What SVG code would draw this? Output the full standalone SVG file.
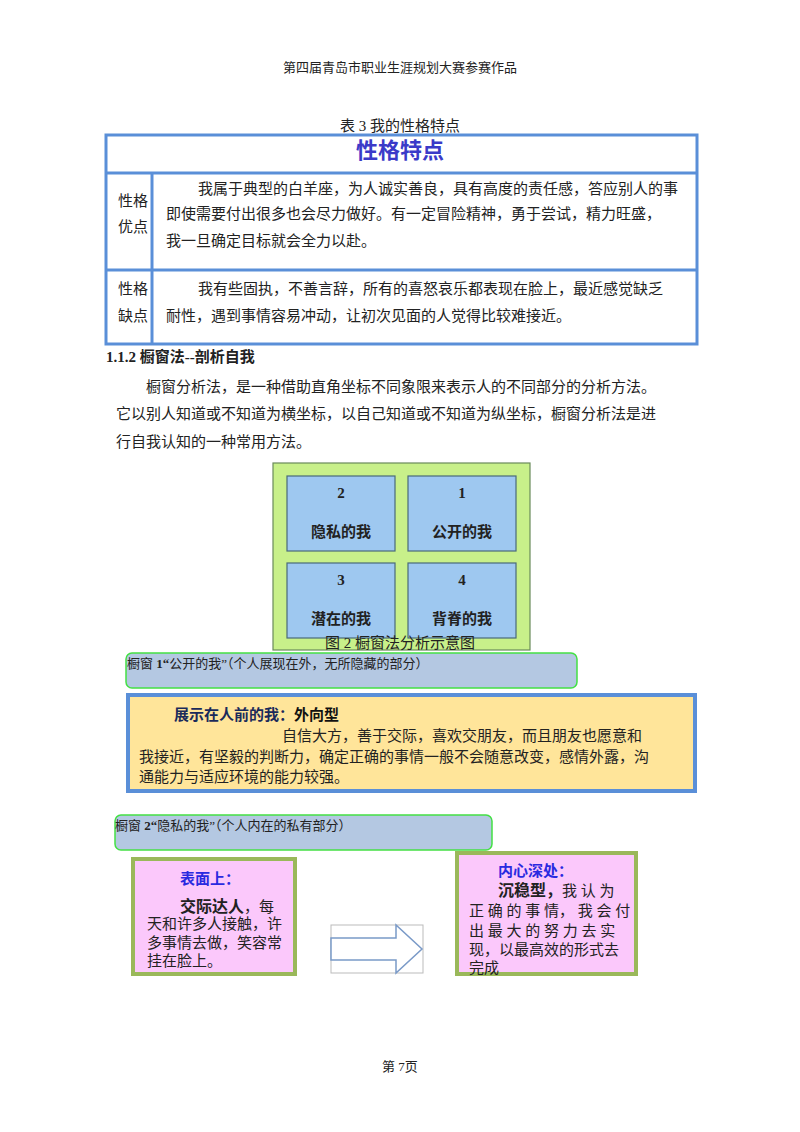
<svg xmlns="http://www.w3.org/2000/svg" width="800" height="1132" viewBox="0 0 800 1132">
<style>
text{font-family:"Liberation Serif","Noto Sans CJK SC",serif;fill:#222}
.s{font-size:13px}
.b{font-size:15px}
.h{font-family:"Liberation Sans","Noto Sans CJK SC",sans-serif;font-weight:bold}
.cell{fill:#9ec8f0;stroke:#4a6a7a;stroke-width:1.2}
</style>
<rect width="800" height="1132" fill="#fff"/>
<text x="400" y="72" class="s" text-anchor="middle">第四届青岛市职业生涯规划大赛参赛作品</text>
<text x="400" y="131" class="b" text-anchor="middle">表 3 我的性格特点</text>
<g id="table" fill="none" stroke="#5a8fd8" stroke-width="3">
<rect x="106" y="135" width="591" height="209"/>
<line x1="106" y1="173" x2="697" y2="173"/>
<line x1="106" y1="270" x2="697" y2="270"/>
<line x1="152" y1="173" x2="152" y2="344"/>
</g>
<text x="400" y="158" text-anchor="middle" class="h" font-size="22" style="fill:#3a3ac8">性格特点</text>
<g class="b">
<text x="118" y="206">性格</text><text x="118" y="232">优点</text>
<text x="198" y="194">我属于典型的白羊座，为人诚实善良，具有高度的责任感，答应别人的事</text>
<text x="166" y="219">即使需要付出很多也会尽力做好。有一定冒险精神，勇于尝试，精力旺盛，</text>
<text x="166" y="246">我一旦确定目标就会全力以赴。</text>
<text x="118" y="294">性格</text><text x="118" y="321">缺点</text>
<text x="198" y="294">我有些固执，不善言辞，所有的喜怒哀乐都表现在脸上，最近感觉缺乏</text>
<text x="166" y="321">耐性，遇到事情容易冲动，让初次见面的人觉得比较难接近。</text>
<text x="106" y="362" font-weight="bold">1.1.2 橱窗法--剖析自我</text>
<text x="146" y="392">橱窗分析法，是一种借助直角坐标不同象限来表示人的不同部分的分析方法。</text>
<text x="116" y="419">它以别人知道或不知道为横坐标，以自己知道或不知道为纵坐标，橱窗分析法是进</text>
<text x="116" y="447">行自我认知的一种常用方法。</text>
</g>
<g id="window">
<rect x="273" y="463" width="257" height="187" fill="#c8f08a" stroke="#6a8a5a" stroke-width="1.2"/>
<rect class="cell" x="287" y="476" width="108" height="75"/>
<rect class="cell" x="408" y="476" width="108" height="75"/>
<rect class="cell" x="287" y="563" width="108" height="75"/>
<rect class="cell" x="408" y="563" width="108" height="75"/>
<g class="h" font-size="15" text-anchor="middle">
<text x="341" y="498">2</text><text x="341" y="537">隐私的我</text>
<text x="462" y="498">1</text><text x="462" y="537">公开的我</text>
<text x="341" y="585">3</text><text x="341" y="624">潜在的我</text>
<text x="462" y="585">4</text><text x="462" y="624">背脊的我</text>
</g>
<text x="400" y="648" class="b" text-anchor="middle">图 2 橱窗法分析示意图</text>
</g>
<g id="w1">
<rect x="126" y="653" width="451" height="35" rx="6" fill="#b4c8e2" stroke="#44e044" stroke-width="1.5"/>
<text x="127" y="668" class="s">橱窗 <tspan font-weight="bold">1“</tspan>公开的我”（个人展现在外，无所隐藏的部分）</text>
</g>
<g id="w1detail">
<rect x="128" y="695" width="567" height="96" fill="#ffe59a" stroke="#5a8fd8" stroke-width="4"/>
<text x="174" y="720" class="h" font-size="15" style="fill:#1a2a5a">展示在人前的我：<tspan style="fill:#111">外向型</tspan></text>
<text x="282" y="741" class="b">自信大方，善于交际，喜欢交朋友，而且朋友也愿意和</text>
<text x="139" y="762" class="b">我接近，有坚毅的判断力，确定正确的事情一般不会随意改变，感情外露，沟</text>
<text x="139" y="782" class="b">通能力与适应环境的能力较强。</text>
</g>
<g id="w2">
<rect x="115" y="815" width="377" height="35" rx="6" fill="#b4c8e2" stroke="#44e044" stroke-width="1.5"/>
<text x="115" y="830" class="s">橱窗 <tspan font-weight="bold">2“</tspan>隐私的我”（个人内在的私有部分）</text>
</g>
<g id="surface">
<rect x="133" y="859" width="162" height="115" fill="#fbc8fb" stroke="#9ab85a" stroke-width="4"/>
<text x="180" y="884" class="h" font-size="15" style="fill:#2a2ae0">表面上：</text>
<text x="180" y="912" class="b"><tspan font-weight="bold" font-size="16">交际达人</tspan>，每</text>
<text x="147" y="929" class="b">天和许多人接触，许</text>
<text x="147" y="948" class="b">多事情去做，笑容常</text>
<text x="147" y="966" class="b">挂在脸上。</text>
</g>
<g id="connectors">
<rect x="331" y="925" width="92" height="48" fill="none" stroke="#bbb" stroke-width="1"/>
<path d="M331,938 H396 V925 L422,949 L396,973 V960 H331 Z" fill="#fff" stroke="#7a9ac8" stroke-width="1.5"/>
</g>
<g id="deep">
<rect x="457" y="853" width="179" height="121" fill="#fbc8fb" stroke="#9ab85a" stroke-width="4"/>
<text x="498" y="876" class="h" font-size="15" style="fill:#2a2ae0">内心深处：</text>
<text x="498" y="896" class="b"><tspan font-weight="bold" font-size="16">沉稳型，</tspan>我 认 为</text>
<text x="469" y="916" class="b">正 确 的 事 情， 我 会 付</text>
<text x="469" y="936" class="b">出 最 大 的 努 力 去 实</text>
<text x="469" y="955" class="b">现，以最高效的形式去</text>
<text x="469" y="973" class="b">完成</text>
</g>
<text x="400" y="1071" class="s" text-anchor="middle">第 7页</text>
</svg>
